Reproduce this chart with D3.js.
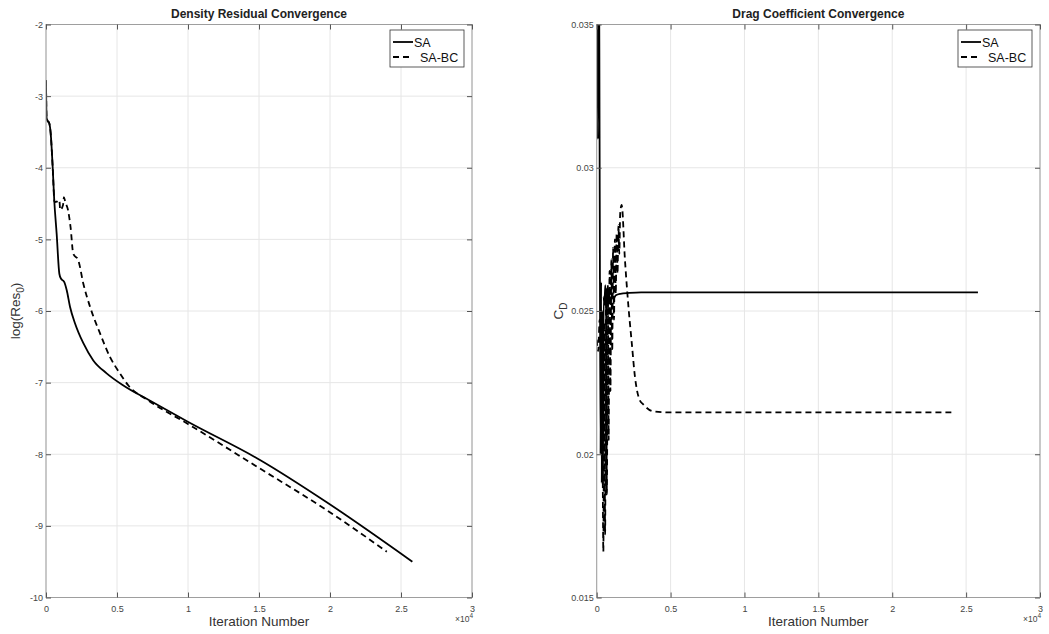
<!DOCTYPE html>
<html lang="en">
<head>
<meta charset="utf-8">
<title>Convergence</title>
<script src="https://d3js.org/d3.v7.min.js"></script>
<style>
  body { margin: 0; background: #fff; }
  svg { font-family: "Liberation Sans", Arial, sans-serif; }
</style>
</head>
<body>
<div id="plot"></div>
<script>
// iteration ticks (raw counts, shown as x10^4)
var iterTicks = [0, 5000, 10000, 15000, 20000, 25000, 30000];
var resTicks = [-10, -9, -8, -7, -6, -5, -4, -3, -2];
var cdTicks = [0.015, 0.02, 0.025, 0.03, 0.035];
var seriesNames = ["SA", "SA-BC"];

// density residual, SA
var resIterSA = [0, 40, 100, 230, 330, 470, 580, 750, 940, 1060, 1270, 1460, 1690, 2040, 2630, 3330, 4270, 5450, 7210, 10020, 15070, 19770, 25800];
var resValSA  = [-2.78, -3.30, -3.34, -3.38, -3.52, -3.99, -4.45, -4.92, -5.48, -5.55, -5.59, -5.71, -5.94, -6.17, -6.45, -6.69, -6.87, -7.04, -7.24, -7.55, -8.08, -8.67, -9.50];
// density residual, SA-BC
var resIterBC = [0, 40, 100, 230, 330, 470, 600, 800, 940, 1000, 1200, 1260, 1360, 1550, 1730, 1920, 2270, 2630, 3100, 3800, 4500, 5200, 5800, 7210, 10020, 15070, 19770, 24000];
var resValBC  = [-2.78, -3.30, -3.34, -3.38, -3.52, -3.99, -4.48, -4.47, -4.45, -4.59, -4.52, -4.41, -4.48, -4.59, -4.83, -5.20, -5.29, -5.62, -5.94, -6.31, -6.64, -6.87, -7.04, -7.25, -7.58, -8.20, -8.78, -9.36];

// drag coefficient, SA
var cdIterSA = [0, 80, 140, 200, 260, 300, 340, 380, 420, 470, 520, 580, 640, 700, 760, 820, 900, 1000, 1150, 1300, 1600, 2200, 3000, 25800];
var cdValSA  = [0.0400, 0.0310, 0.0400, 0.0300, 0.0200, 0.0260, 0.0190, 0.0250, 0.0189, 0.0255, 0.0252, 0.0259, 0.0251, 0.0258, 0.02515, 0.0257, 0.02525, 0.0255, 0.02545, 0.02555, 0.0256, 0.02563, 0.02565, 0.02565];
// drag coefficient, SA-BC
var cdIterBC = [0, 100, 200, 280, 340, 400, 450, 510, 570, 630, 690, 750, 810, 870, 930, 990, 1050, 1110, 1170, 1230, 1290, 1350, 1410, 1470, 1530, 1590, 1690, 1910, 2140, 2370, 2590, 2900, 3150, 3800, 5000, 24000];
var cdValBC  = [0.0240, 0.0236, 0.0247, 0.0236, 0.0249, 0.0200, 0.0166, 0.0246, 0.0172, 0.0254, 0.0186, 0.0259, 0.0205, 0.0264, 0.0222, 0.0268, 0.0236, 0.0272, 0.0247, 0.0275, 0.0256, 0.0277, 0.0263, 0.0280, 0.0270, 0.0284, 0.0287, 0.0268, 0.0252, 0.0239, 0.0227, 0.0219, 0.02174, 0.0215, 0.02146, 0.02146];

function zip(xs, ys) { return xs.map(function (d, i) { return [d, ys[i]]; }); }

var svg = d3.select("#plot").append("svg")
    .attr("width", 1049)
    .attr("height", 634);

var plotTop = 24.5, plotBottom = 597.5;

function drawPanel(cfg, idx) {
    var x = d3.scaleLinear().domain([0, 30000]).range([cfg.left, cfg.right]);
    var y = d3.scaleLinear().domain(cfg.yDomain).range([plotBottom, plotTop]);
    var g = svg.append("g");

    // grid
    g.selectAll(".gx").data(iterTicks).enter().append("line")
        .attr("x1", function (d) { return x(d); }).attr("x2", function (d) { return x(d); })
        .attr("y1", plotTop).attr("y2", plotBottom)
        .attr("stroke", "#e6e6e6").attr("stroke-width", 1);
    g.selectAll(".gy").data(cfg.yTicks).enter().append("line")
        .attr("x1", cfg.left).attr("x2", cfg.right)
        .attr("y1", function (d) { return y(d); }).attr("y2", function (d) { return y(d); })
        .attr("stroke", "#e6e6e6").attr("stroke-width", 1);

    // data lines
    var clipId = "clip" + idx;
    svg.append("clipPath").attr("id", clipId).append("rect")
        .attr("x", cfg.left).attr("y", plotTop)
        .attr("width", cfg.right - cfg.left).attr("height", plotBottom - plotTop);
    var line = d3.line().curve(cfg.curve)
        .x(function (d) { return x(d[0]); }).y(function (d) { return y(d[1]); });
    cfg.series.forEach(function (s, i) {
        g.append("path")
            .attr("clip-path", "url(#" + clipId + ")")
            .attr("d", line(s))
            .attr("fill", "none")
            .attr("stroke", "#000")
            .attr("stroke-width", 1.8)
            .attr("stroke-linejoin", "round")
            .attr("stroke-dasharray", i == 1 ? "6,4" : null);
    });

    // box
    g.append("rect")
        .attr("x", cfg.left).attr("y", plotTop)
        .attr("width", cfg.right - cfg.left).attr("height", plotBottom - plotTop)
        .attr("fill", "none").attr("stroke", "#9e9e9e").attr("stroke-width", 1);

    // axes with inward ticks
    var xAxis = g.append("g").attr("transform", "translate(0," + plotBottom + ")")
        .call(d3.axisBottom(x).tickValues(iterTicks).tickSize(-5).tickPadding(8)
            .tickFormat(function (d) { return d / 10000; }));
    var xTop = g.append("g").attr("transform", "translate(0," + plotTop + ")")
        .call(d3.axisTop(x).tickValues(iterTicks).tickSize(-5).tickFormat(""));
    var yAxis = g.append("g").attr("transform", "translate(" + cfg.left + ",0)")
        .call(d3.axisLeft(y).tickValues(cfg.yTicks).tickSize(-5).tickPadding(3).tickFormat(cfg.yFmt));
    var yRight = g.append("g").attr("transform", "translate(" + cfg.right + ",0)")
        .call(d3.axisRight(y).tickValues(cfg.yTicks).tickSize(-5).tickFormat(""));
    [xAxis, xTop, yAxis, yRight].forEach(function (a) {
        a.select(".domain").remove();
        a.selectAll(".tick line").attr("stroke", "#555");
        a.selectAll("text").attr("fill", "#444").style("font-size", "9px");
    });

    // x10^4
    var ex = g.append("text").attr("x", cfg.right + 1).attr("y", 622)
        .attr("text-anchor", "end").attr("fill", "#444").style("font-size", "8.5px");
    ex.append("tspan").text("\u00d710");
    ex.append("tspan").attr("dy", -4).style("font-size", "6.5px").text("4");

    // title
    g.append("text").attr("x", (cfg.left + cfg.right) / 2).attr("y", 18)
        .attr("text-anchor", "middle").attr("fill", "#222")
        .style("font-size", "12px").style("font-weight", "bold").text(cfg.title);

    // x label
    g.append("text").attr("x", (cfg.left + cfg.right) / 2).attr("y", 626)
        .attr("text-anchor", "middle").attr("fill", "#333")
        .style("font-size", "13.5px").text("Iteration Number");

    // y label
    var yl = g.append("text")
        .attr("transform", "translate(" + cfg.ylabelX + "," + (plotTop + plotBottom) / 2 + ") rotate(-90)")
        .attr("text-anchor", "middle").attr("fill", "#333").style("font-size", "13.5px");
    yl.append("tspan").text(cfg.ylabel[0]);
    yl.append("tspan").attr("dy", 4).style("font-size", "10px").text(cfg.ylabel[1]);
    if (cfg.ylabel[2]) yl.append("tspan").attr("dy", -4).text(cfg.ylabel[2]);

    // legend
    var lx = cfg.right - 82, ly = 30;
    var leg = g.append("g");
    leg.append("rect").attr("x", lx).attr("y", ly).attr("width", 74).attr("height", 37)
        .attr("fill", "#fff").attr("stroke", "#333").attr("stroke-width", 0.8);
    seriesNames.forEach(function (name, i) {
        var yy = ly + 12 + i * 15;
        leg.append("line").attr("x1", lx + 3).attr("x2", lx + 23).attr("y1", yy).attr("y2", yy)
            .attr("stroke", "#000").attr("stroke-width", 1.8)
            .attr("stroke-dasharray", i == 1 ? "6,4" : null);
        leg.append("text").attr("x", i == 1 ? lx + 30 : lx + 24).attr("y", yy + 4.5)
            .attr("fill", "#111").style("font-size", "12.5px").text(name);
    });
}

drawPanel({
    left: 46, right: 472,
    yDomain: [-10, -2], yTicks: resTicks,
    yFmt: function (d) { return d; },
    title: "Density Residual Convergence",
    ylabel: ["log(Res", "0", ")"], ylabelX: 20,
    curve: d3.curveMonotoneX,
    series: [zip(resIterSA, resValSA), zip(resIterBC, resValBC)]
}, 0);

drawPanel({
    left: 596.7, right: 1040,
    yDomain: [0.015, 0.035], yTicks: cdTicks,
    yFmt: function (d) { return String(+d.toFixed(3)); },
    title: "Drag Coefficient Convergence",
    ylabel: ["C", "D"], ylabelX: 563,
    curve: d3.curveMonotoneX,
    series: [zip(cdIterSA, cdValSA), zip(cdIterBC, cdValBC)]
}, 1);
</script>
</body>
</html>
